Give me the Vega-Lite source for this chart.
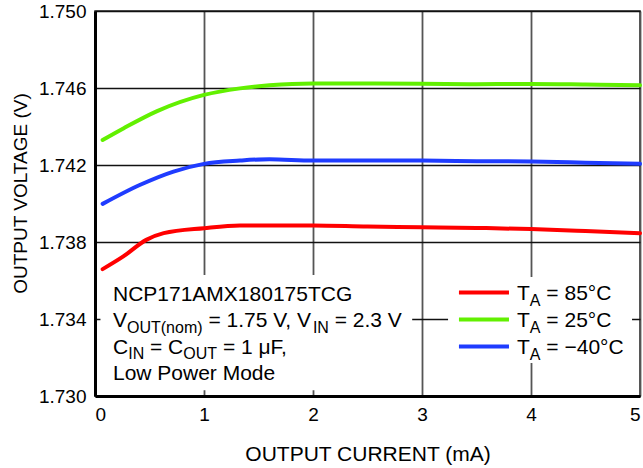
{
  "$schema": "https://vega.github.io/schema/vega-lite/v6.json",
  "width": 545,
  "height": 385,
  "autosize": {"type": "none"},
  "padding": {"left": 95, "top": 11, "right": 3, "bottom": 72},
  "background": "white",
  "config": {
    "font": "Liberation Sans",
    "view": {"stroke": "#222", "strokeWidth": 1.5},
    "text": {"font": "Liberation Sans", "fontSize": 21, "color": "black", "align": "left", "baseline": "alphabetic"}
  },
  "datasets": {
    "curves": [
      {"series": "85", "current": 0.07, "voltage": 1.73659},
      {"series": "85", "current": 0.26, "voltage": 1.73725},
      {"series": "85", "current": 0.47, "voltage": 1.73811},
      {"series": "85", "current": 0.63, "voltage": 1.73846},
      {"series": "85", "current": 1.0, "voltage": 1.73872},
      {"series": "85", "current": 1.33, "voltage": 1.73886},
      {"series": "85", "current": 2.0, "voltage": 1.73886},
      {"series": "85", "current": 2.5, "voltage": 1.7388},
      {"series": "85", "current": 3.0, "voltage": 1.73877},
      {"series": "85", "current": 3.5, "voltage": 1.73873},
      {"series": "85", "current": 4.0, "voltage": 1.73867},
      {"series": "85", "current": 4.5, "voltage": 1.73857},
      {"series": "85", "current": 5.0, "voltage": 1.73846},
      {"series": "25", "current": 0.07, "voltage": 1.7433},
      {"series": "25", "current": 0.26, "voltage": 1.7439},
      {"series": "25", "current": 0.57, "voltage": 1.7448},
      {"series": "25", "current": 1.0, "voltage": 1.74564},
      {"series": "25", "current": 1.33, "voltage": 1.74598},
      {"series": "25", "current": 1.6, "voltage": 1.74614},
      {"series": "25", "current": 2.0, "voltage": 1.74624},
      {"series": "25", "current": 2.5, "voltage": 1.74624},
      {"series": "25", "current": 3.0, "voltage": 1.74622},
      {"series": "25", "current": 3.5, "voltage": 1.7462},
      {"series": "25", "current": 4.0, "voltage": 1.74621},
      {"series": "25", "current": 4.5, "voltage": 1.74618},
      {"series": "25", "current": 5.0, "voltage": 1.74614},
      {"series": "-40", "current": 0.07, "voltage": 1.73998},
      {"series": "-40", "current": 0.41, "voltage": 1.74096},
      {"series": "-40", "current": 0.72, "voltage": 1.74166},
      {"series": "-40", "current": 1.0, "voltage": 1.74206},
      {"series": "-40", "current": 1.33, "voltage": 1.74223},
      {"series": "-40", "current": 1.6, "voltage": 1.7423},
      {"series": "-40", "current": 2.0, "voltage": 1.74223},
      {"series": "-40", "current": 2.5, "voltage": 1.74224},
      {"series": "-40", "current": 3.0, "voltage": 1.74223},
      {"series": "-40", "current": 3.5, "voltage": 1.7422},
      {"series": "-40", "current": 4.0, "voltage": 1.74218},
      {"series": "-40", "current": 4.5, "voltage": 1.74212},
      {"series": "-40", "current": 5.0, "voltage": 1.74206}
    ]
  },
  "layer": [
    {
      "data": {"name": "curves"},
      "mark": {"type": "line", "interpolate": "monotone", "strokeWidth": 4, "strokeCap": "round"},
      "encoding": {
        "x": {
          "field": "current", "type": "quantitative",
          "scale": {"domain": [0, 5], "nice": false, "zero": false},
          "axis": {
            "values": [0, 1, 2, 3, 4, 5], "format": "d",
            "title": "OUTPUT CURRENT (mA)",
            "grid": true, "gridColor": "#555", "gridWidth": 1.8,
            "domainColor": "black", "domainWidth": 3,
            "ticks": false,
            "labelFontSize": 19, "labelColor": "black", "labelPadding": 9, "labelFlush": true,
            "titleFontSize": 21, "titleFontWeight": "normal", "titleColor": "black",
            "titleY": 64, "titleBaseline": "alphabetic"
          }
        },
        "y": {
          "field": "voltage", "type": "quantitative",
          "scale": {"domain": [1.730, 1.750], "nice": false, "zero": false},
          "axis": {
            "values": [1.730, 1.734, 1.738, 1.742, 1.746, 1.750], "format": ".3f",
            "title": "OUTPUT VOLTAGE (V)",
            "grid": true, "gridColor": "#111", "gridWidth": 1.5,
            "domainColor": "black", "domainWidth": 3,
            "ticks": false,
            "labelFontSize": 19, "labelColor": "black", "labelPadding": 9, "labelFlush": false,
            "titleFontSize": 19, "titleFontWeight": "normal", "titleColor": "black",
            "titleX": -75, "titleY": 182, "titleBaseline": "middle", "titleAngle": -90, "titleAlign": "center"
          }
        },
        "color": {
          "field": "series", "type": "nominal",
          "scale": {"domain": ["85", "25", "-40"], "range": ["#ff0000", "#62f000", "#1f3cff"]},
          "legend": null
        }
      }
    },
    {
      "data": {"values": [{"box": "note"}]},
      "mark": {"type": "rect", "fill": "white"},
      "encoding": {"x": {"datum": 0.05}, "x2": {"datum": 2.91}, "y": {"datum": 1.7303}, "y2": {"datum": 1.73629}}
    },
    {
      "data": {"values": [{"box": "legend"}]},
      "mark": {"type": "rect", "fill": "white"},
      "encoding": {"x": {"datum": 3.239}, "x2": {"datum": 4.927}, "y": {"datum": 1.731714}, "y2": {"datum": 1.736182}}
    },
    {
      "data": {"values": [{"t": "NCP171AMX180175TCG"}]},
      "mark": {"type": "text"},
      "encoding": {"x": {"datum": 0.165}, "y": {"datum": 1.734935}, "text": {"field": "t"}}
    },
    {
      "data": {"values": [{"t": "V"}]},
      "mark": {"type": "text"},
      "encoding": {"x": {"datum": 0.165}, "y": {"datum": 1.733584}, "text": {"field": "t"}}
    },
    {
      "data": {"values": [{"t": "OUT(nom)"}]},
      "mark": {"type": "text", "dx": 14, "dy": 6, "fontSize": 16},
      "encoding": {"x": {"datum": 0.165}, "y": {"datum": 1.733584}, "text": {"field": "t"}}
    },
    {
      "data": {"values": [{"t": "= 1.75 V, V"}]},
      "mark": {"type": "text", "dx": 95.4},
      "encoding": {"x": {"datum": 0.165}, "y": {"datum": 1.733584}, "text": {"field": "t"}}
    },
    {
      "data": {"values": [{"t": "IN"}]},
      "mark": {"type": "text", "dx": 199.9, "dy": 6, "fontSize": 16},
      "encoding": {"x": {"datum": 0.165}, "y": {"datum": 1.733584}, "text": {"field": "t"}}
    },
    {
      "data": {"values": [{"t": "= 2.3 V"}]},
      "mark": {"type": "text", "dx": 221.7},
      "encoding": {"x": {"datum": 0.165}, "y": {"datum": 1.733584}, "text": {"field": "t"}}
    },
    {
      "data": {"values": [{"t": "C"}]},
      "mark": {"type": "text"},
      "encoding": {"x": {"datum": 0.165}, "y": {"datum": 1.732181}, "text": {"field": "t"}}
    },
    {
      "data": {"values": [{"t": "IN"}]},
      "mark": {"type": "text", "dx": 15.2, "dy": 5, "fontSize": 16},
      "encoding": {"x": {"datum": 0.165}, "y": {"datum": 1.732181}, "text": {"field": "t"}}
    },
    {
      "data": {"values": [{"t": "= C"}]},
      "mark": {"type": "text", "dx": 37},
      "encoding": {"x": {"datum": 0.165}, "y": {"datum": 1.732181}, "text": {"field": "t"}}
    },
    {
      "data": {"values": [{"t": "OUT"}]},
      "mark": {"type": "text", "dx": 70.3, "dy": 5, "fontSize": 16},
      "encoding": {"x": {"datum": 0.165}, "y": {"datum": 1.732181}, "text": {"field": "t"}}
    },
    {
      "data": {"values": [{"t": "= 1 μF,"}]},
      "mark": {"type": "text", "dx": 109.9},
      "encoding": {"x": {"datum": 0.165}, "y": {"datum": 1.732181}, "text": {"field": "t"}}
    },
    {
      "data": {"values": [{"t": "Low Power Mode"}]},
      "mark": {"type": "text"},
      "encoding": {"x": {"datum": 0.165}, "y": {"datum": 1.73081}, "text": {"field": "t"}}
    },
    {
      "data": {"values": [{"series": "85"}]},
      "mark": {"type": "rule", "strokeWidth": 4, "color": "#ff0000"},
      "encoding": {"x": {"datum": 3.339}, "x2": {"datum": 3.798}, "y": {"datum": 1.735376}}
    },
    {
      "data": {"values": [{"series": "25"}]},
      "mark": {"type": "rule", "strokeWidth": 4, "color": "#62f000"},
      "encoding": {"x": {"datum": 3.339}, "x2": {"datum": 3.798}, "y": {"datum": 1.733974}}
    },
    {
      "data": {"values": [{"series": "-40"}]},
      "mark": {"type": "rule", "strokeWidth": 4, "color": "#1f3cff"},
      "encoding": {"x": {"datum": 3.339}, "x2": {"datum": 3.798}, "y": {"datum": 1.732571}}
    },
    {
      "data": {"values": [{"t": "T"}]},
      "mark": {"type": "text", "dy": 7.5},
      "encoding": {"x": {"datum": 3.872}, "y": {"datum": 1.735376}, "text": {"field": "t"}}
    },
    {
      "data": {"values": [{"t": "A"}]},
      "mark": {"type": "text", "dx": 12.8, "dy": 13, "fontSize": 16},
      "encoding": {"x": {"datum": 3.872}, "y": {"datum": 1.735376}, "text": {"field": "t"}}
    },
    {
      "data": {"values": [{"t": "= 85°C"}]},
      "mark": {"type": "text", "dx": 29.3, "dy": 7.5},
      "encoding": {"x": {"datum": 3.872}, "y": {"datum": 1.735376}, "text": {"field": "t"}}
    },
    {
      "data": {"values": [{"t": "T"}]},
      "mark": {"type": "text", "dy": 7.5},
      "encoding": {"x": {"datum": 3.872}, "y": {"datum": 1.733974}, "text": {"field": "t"}}
    },
    {
      "data": {"values": [{"t": "A"}]},
      "mark": {"type": "text", "dx": 12.8, "dy": 13, "fontSize": 16},
      "encoding": {"x": {"datum": 3.872}, "y": {"datum": 1.733974}, "text": {"field": "t"}}
    },
    {
      "data": {"values": [{"t": "= 25°C"}]},
      "mark": {"type": "text", "dx": 29.3, "dy": 7.5},
      "encoding": {"x": {"datum": 3.872}, "y": {"datum": 1.733974}, "text": {"field": "t"}}
    },
    {
      "data": {"values": [{"t": "T"}]},
      "mark": {"type": "text", "dy": 7.5},
      "encoding": {"x": {"datum": 3.872}, "y": {"datum": 1.732571}, "text": {"field": "t"}}
    },
    {
      "data": {"values": [{"t": "A"}]},
      "mark": {"type": "text", "dx": 12.8, "dy": 13, "fontSize": 16},
      "encoding": {"x": {"datum": 3.872}, "y": {"datum": 1.732571}, "text": {"field": "t"}}
    },
    {
      "data": {"values": [{"t": "= −40°C"}]},
      "mark": {"type": "text", "dx": 29.3, "dy": 7.5},
      "encoding": {"x": {"datum": 3.872}, "y": {"datum": 1.732571}, "text": {"field": "t"}}
    }
  ]
}
